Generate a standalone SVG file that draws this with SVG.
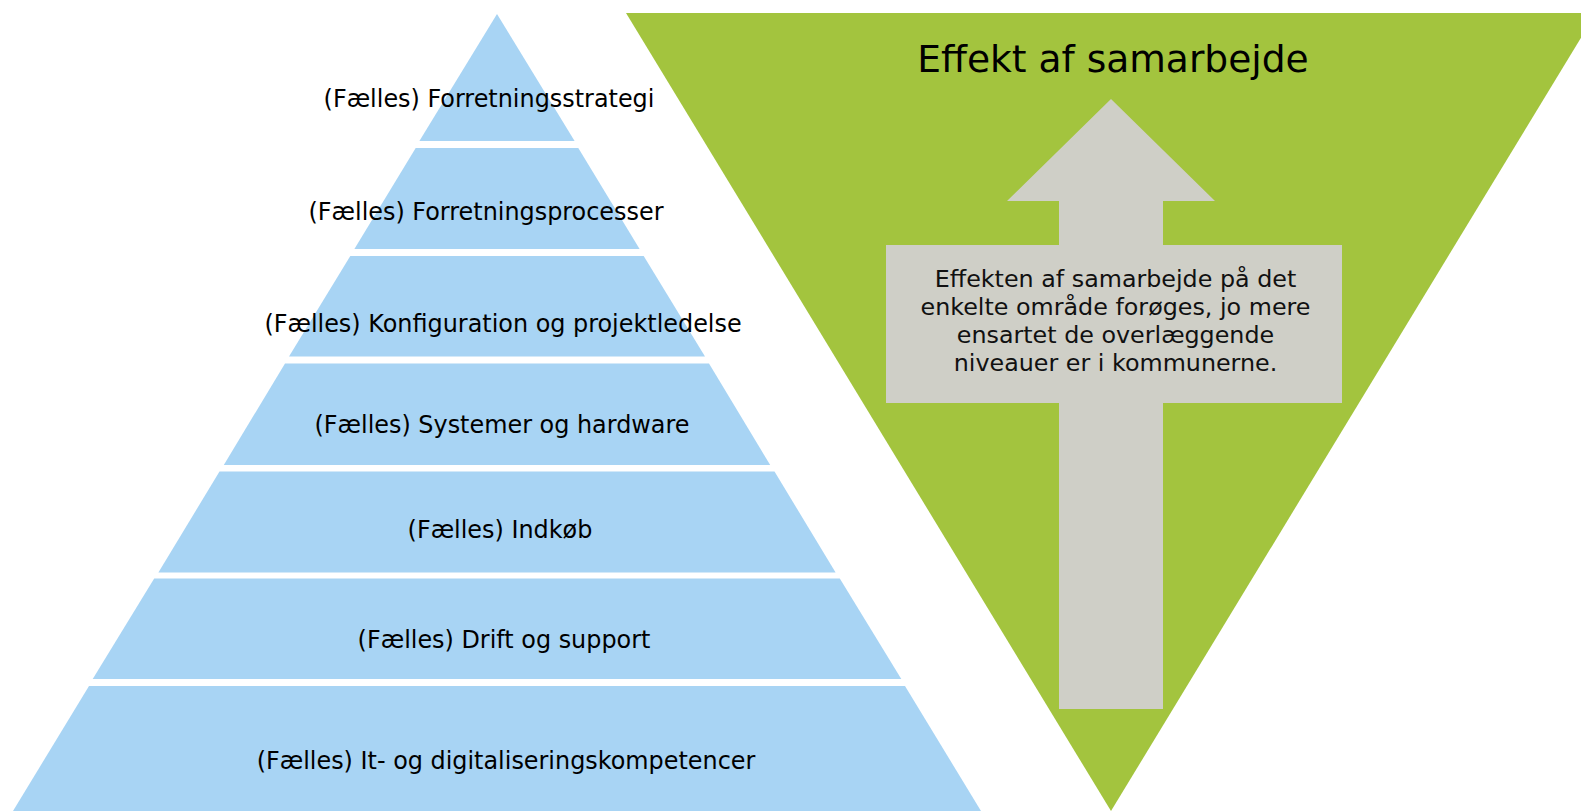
<svg xmlns="http://www.w3.org/2000/svg" width="1581" height="811" viewBox="0 0 1581 811">
<style>
.band{fill:#A8D4F4}
.lbl{font-family:"DejaVu Sans",Verdana,sans-serif;font-size:23.9px;fill:#000;text-anchor:middle}
.body{font-family:"DejaVu Sans",Verdana,sans-serif;font-size:23.8px;fill:#111;text-anchor:middle}
.title{font-family:"DejaVu Sans",Verdana,sans-serif;font-size:37.6px;fill:#000;text-anchor:middle}
</style>
<rect width="1581" height="811" fill="#fff"/>
<g id="effect-triangle">
<polygon points="626,13 1596,13 1111,811" fill="#A3C43E"/>
<text class="title" x="1113" y="72">Effekt af samarbejde</text>
</g>
<g id="arrow">
<polygon points="1111,99 1215,201 1163,201 1163,245 1342,245 1342,403 1163,403 1163,709 1059,709 1059,403 886,403 886,245 1059,245 1059,201 1007,201" fill="#CFCFC7"/>
<text class="body" x="1115.5" y="287">Effekten af samarbejde på det</text>
<text class="body" x="1115.5" y="315">enkelte område forøges, jo mere</text>
<text class="body" x="1115.5" y="343">ensartet de overlæggende</text>
<text class="body" x="1115.5" y="371">niveauer er i kommunerne.</text>
</g>
<g id="level-1">
<polygon class="band" points="497,14 574.6,141 419.4,141"/>
<text class="lbl" x="489" y="107">(Fælles) Forretningsstrategi</text>
</g>
<g id="level-2">
<polygon class="band" points="415.7,148 578.3,148 639.6,249 354.4,249"/>
<text class="lbl" x="486" y="220">(Fælles) Forretningsprocesser</text>
</g>
<g id="level-3">
<polygon class="band" points="350.3,256 643.7,256 705,356.5 289,356.5"/>
<text class="lbl" x="503" y="331.5">(Fælles) Konfiguration og projektledelse</text>
</g>
<g id="level-4">
<polygon class="band" points="285,363.5 709,363.5 770.2,465 223.8,465"/>
<text class="lbl" x="502" y="433">(Fælles) Systemer og hardware</text>
</g>
<g id="level-5">
<polygon class="band" points="219.5,471.5 774.5,471.5 835.6,572.5 158.4,572.5"/>
<text class="lbl" x="500" y="538">(Fælles) Indkøb</text>
</g>
<g id="level-6">
<polygon class="band" points="154.2,578.5 839.8,578.5 901.3,679 92.7,679"/>
<text class="lbl" x="504" y="648">(Fælles) Drift og support</text>
</g>
<g id="level-7">
<polygon class="band" points="89,686 905,686 981,811 13,811"/>
<text class="lbl" x="506" y="768.5">(Fælles) It- og digitaliseringskompetencer</text>
</g>
</svg>
